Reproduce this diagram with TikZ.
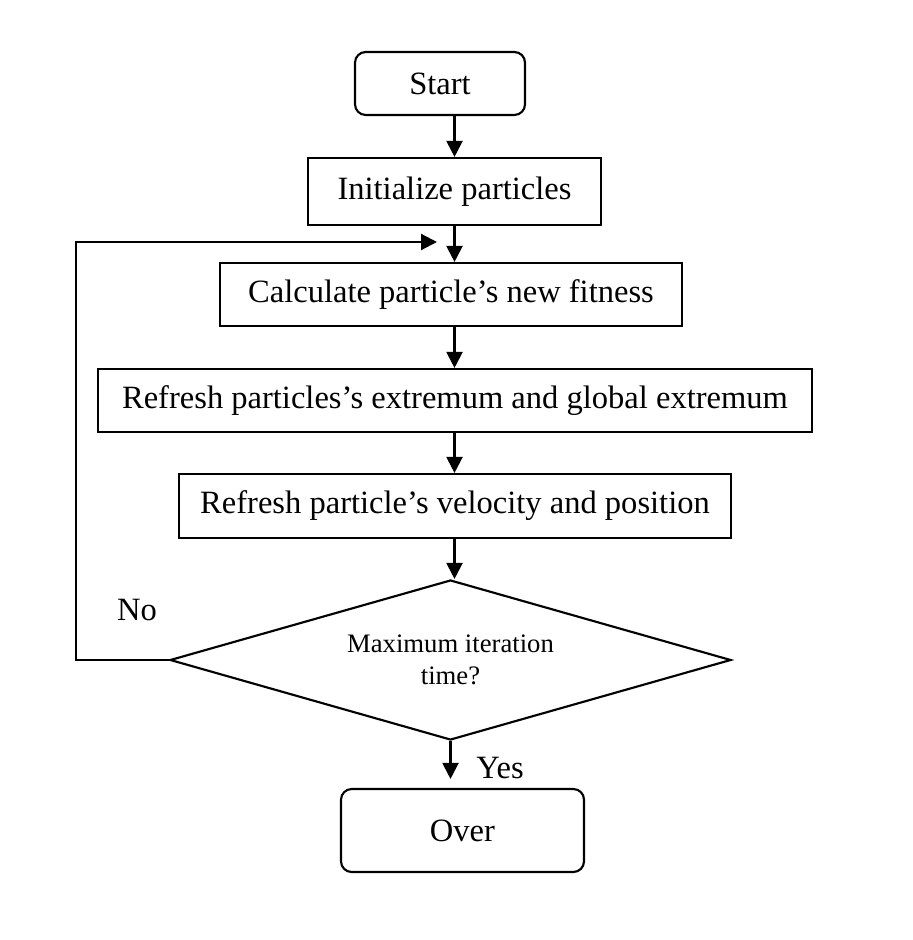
\documentclass[tikz,border=0pt]{standalone}
\usepackage{fontspec}
\setmainfont{Liberation Serif}
\usetikzlibrary{shapes.geometric,arrows.meta}
\newcommand{\pxu}{0.375pt}

\begin{document}
\begin{tikzpicture}
[x=\pxu,y=-\pxu,
  boxDecorate/.style={shape=rectangle,draw,line width=0.8pt,inner sep=0pt},%
  roundDecorate/.style={boxDecorate,rounded corners=4pt},%
  decisionDecorate/.style={shape=diamond,draw,line width=0.8pt,inner sep=0pt,
    aspect=3.5,align=center,font=\fontsize{10}{12}\selectfont},%
  arrowDecorate/.style={-{Triangle[length=6pt,width=6pt]},line width=0.8pt},%
  font=\fontsize{12.2}{14}\selectfont]
\useasboundingbox (0,0) rectangle (912,940);
%% nodes or boxes
\node (start) at (440,83.5) [roundDecorate,minimum width=170*\pxu,minimum height=63*\pxu] {Start};
\foreach \nodename/\x/\y/\w/\h/\txt in {
  init/454.5/191.5/293/67/{Initialize particles},
  calc/451/294.5/462/63/{Calculate particle’s new fitness},
  ext/455/400.5/714/63/{Refresh particles’s extremum and global extremum},
  vel/455/506/552/64/{Refresh particle’s velocity and position}}
{
  \node (\nodename) at (\x,\y) [boxDecorate,minimum width=\w*\pxu,minimum height=\h*\pxu] {\txt};
}
\node (dia) at (450.5,660) [decisionDecorate,minimum width=561*\pxu,minimum height=160*\pxu]
  {Maximum iteration\\time?};
\node (over) at (462.5,830.5) [roundDecorate,minimum width=243*\pxu,minimum height=83*\pxu] {Over};
\node (no) at (137,610) {No};
\node (yes) at (500,768) {Yes};
%% connectors
\draw[arrowDecorate] (init.north |- start.south) -- (init.north);
\foreach \startnode/\endnode in {init/calc, calc/ext, ext/vel, vel/dia}
{
  \draw[arrowDecorate] (\startnode.south -| init.south) -- (\endnode.north -| init.south);
}
\draw[arrowDecorate,shorten >=9*\pxu] (dia.south) -- (over.north -| dia.south);
\coordinate (loopcorner) at (76,660);
\coordinate (looptip) at (437,242);
\draw[arrowDecorate] (dia.west) -- (loopcorner) |- (looptip);
\end{tikzpicture}
\end{document}
